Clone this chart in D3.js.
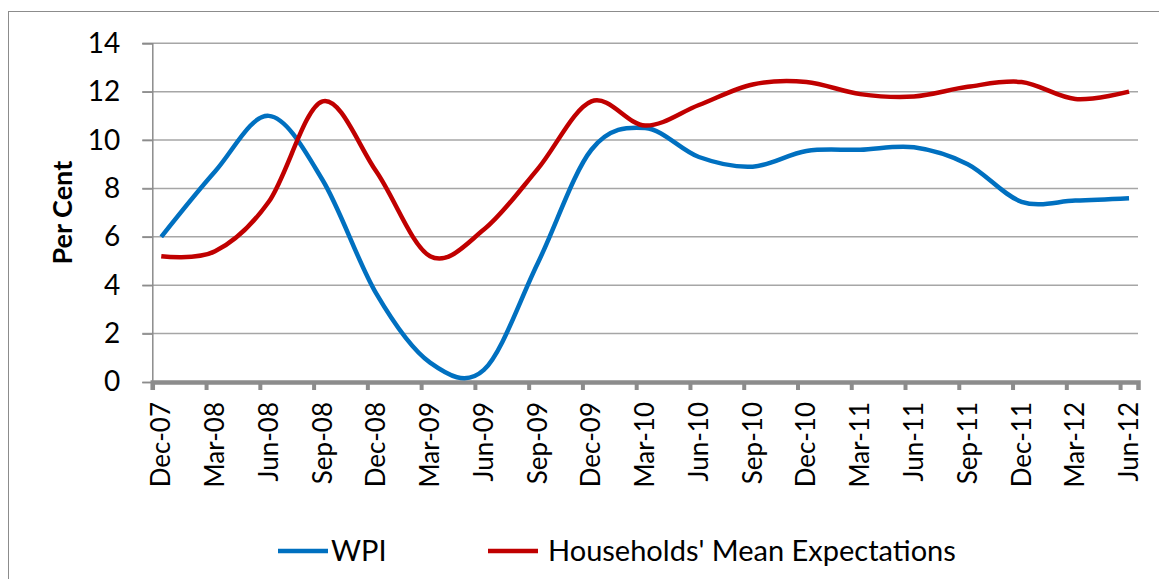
<!DOCTYPE html>
<html>
<head>
<meta charset="utf-8">
<script src="https://cdn.jsdelivr.net/npm/d3@7"></script>
<style>
  html, body { margin: 0; padding: 0; background: #fff; }
  svg { display: block; }
  text { font-family: Lato, "Open Sans", sans-serif; fill: #000; }
</style>
</head>
<body>
<svg id="chart" width="1159" height="579"></svg>
<script>
// ---- data (quarterly, per cent) ----
const categories = ["Dec-07","Mar-08","Jun-08","Sep-08","Dec-08","Mar-09","Jun-09","Sep-09","Dec-09","Mar-10",
                    "Jun-10","Sep-10","Dec-10","Mar-11","Jun-11","Sep-11","Dec-11","Mar-12","Jun-12"];
const wpi        = [6.0, 8.7, 11.0, 8.35, 3.65, 0.8, 0.5, 4.9, 9.6, 10.5,
                    9.3, 8.9, 9.55, 9.6, 9.7, 9.0, 7.45, 7.5, 7.6];
const households = [5.2, 5.4, 7.45, 11.6, 8.7, 5.2, 6.3, 8.8, 11.6, 10.6,
                    11.45, 12.3, 12.4, 11.9, 11.8, 12.2, 12.4, 11.7, 12.0];
const yTicks = [0, 2, 4, 6, 8, 10, 12, 14];
const seriesNames = ["WPI", "Households' Mean Expectations"];
const seriesColors = ["#0070C0", "#C00000"];

// ---- layout ----
const svg = d3.select("#chart");
const plot = { left: 152.3, right: 1138, top: 43.3, bottom: 382 };
const monthsSpan = (categories.length - 1) * 3 + 1;   // monthly date axis, quarterly data
const x = d3.scaleLinear().domain([0, monthsSpan]).range([plot.left, plot.right]);
const y = d3.scaleLinear().domain([0, 14]).range([plot.bottom, plot.top]);
const posOf = i => x(i * 3 + 0.5);

// outer frame
svg.append("rect").attr("x", 8.5).attr("y", 11.5).attr("width", 1200).attr("height", 700)
  .attr("fill", "none").attr("stroke", "#8c8c8c").attr("stroke-width", 1);

// gridlines (extend left as tick marks)
svg.append("g").selectAll("line").data(yTicks.filter(d => d > 0)).join("line")
  .attr("x1", plot.left - 10).attr("x2", plot.right)
  .attr("y1", d => y(d)).attr("y2", d => y(d))
  .attr("stroke", "#a6a6a6").attr("stroke-width", 1.5);

// y axis
const yAxis = d3.axisLeft(y).tickValues(yTicks).tickSize(10).tickPadding(22);
const gy = svg.append("g").attr("transform", `translate(${plot.left},0)`).call(yAxis);
gy.select(".domain").attr("stroke", "#8c8c8c").attr("stroke-width", 1.5);
gy.selectAll(".tick line").attr("stroke", "#8c8c8c").attr("stroke-width", 1.5);
gy.selectAll(".tick text").style("font-size", "28px").attr("fill", "#000")
  .style("font-family", "Lato, sans-serif");

// x axis: tick marks every quarter boundary, labels at data points
const tickMonths = d3.range(0, monthsSpan, 3);
const xAxis = d3.axisBottom(x).tickValues(tickMonths).tickSize(8).tickFormat("");
const gx = svg.append("g").attr("transform", `translate(0,${plot.bottom})`).call(xAxis);
gx.select(".domain").attr("stroke", "#8c8c8c").attr("stroke-width", 4.5);
gx.selectAll(".tick line").attr("stroke", "#8c8c8c").attr("stroke-width", 4);

svg.append("g").selectAll("text").data(categories).join("text")
  .attr("transform", (d, i) => `translate(${posOf(i) + 9},402) rotate(-90)`)
  .attr("text-anchor", "end")
  .style("font-size", "26px")
  .text(d => d);

// y axis title
svg.append("text")
  .attr("transform", `translate(${72},${(plot.top + plot.bottom) / 2}) rotate(-90)`)
  .attr("text-anchor", "middle")
  .style("font-size", "27px").style("font-weight", "bold")
  .text("Per Cent");

// lines
const line = d3.line().x((d, i) => posOf(i)).y(d => y(d)).curve(d3.curveCardinal.tension(0));
[wpi, households].forEach((s, k) => {
  svg.append("path").datum(s)
    .attr("d", line)
    .attr("fill", "none")
    .attr("stroke", seriesColors[k])
    .attr("stroke-width", 4.5)
    .attr("stroke-linejoin", "round");
});

// legend
const legendItems = [{x: 278, tx: 331}, {x: 488, tx: 548}];
legendItems.forEach((it, k) => {
  svg.append("line").attr("x1", it.x).attr("x2", it.x + 50)
    .attr("y1", 551).attr("y2", 551)
    .attr("stroke", seriesColors[k]).attr("stroke-width", 4.5);
  svg.append("text").attr("x", it.tx).attr("y", 561)
    .style("font-size", "29px").text(seriesNames[k]);
});
</script>
</body>
</html>
